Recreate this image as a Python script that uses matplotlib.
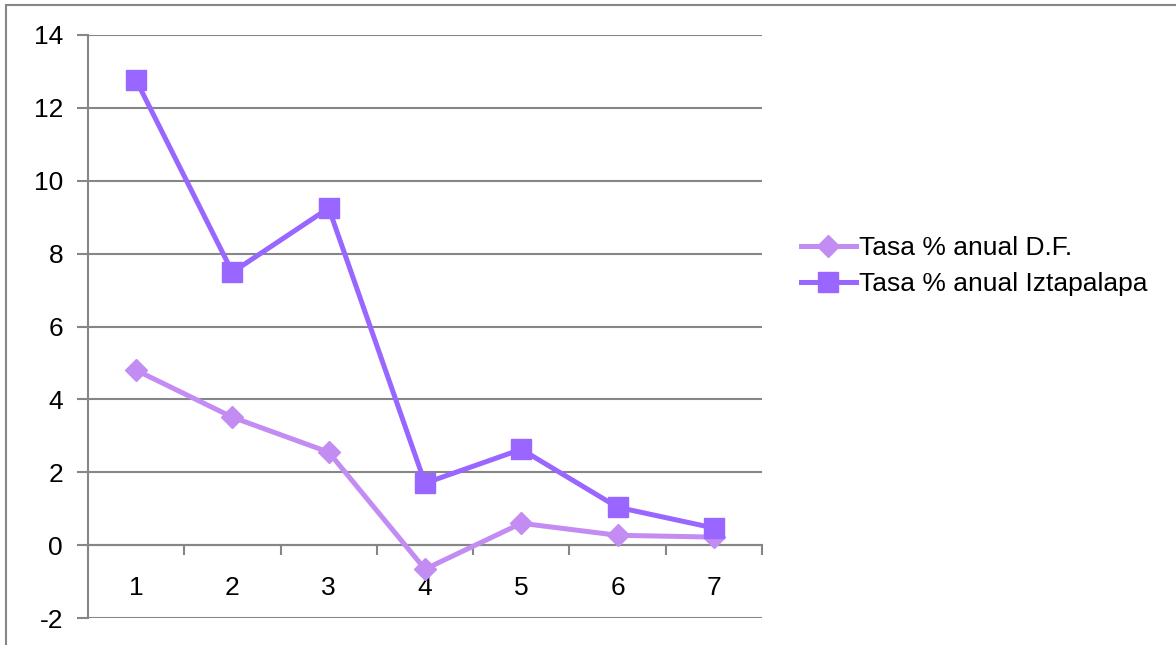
import matplotlib.pyplot as plt
import matplotlib.patches as mpatches
from matplotlib.ticker import FixedLocator

plt.rcParams["font.family"] = ["Liberation Sans", "DejaVu Sans"]

# ── data ─────────────────────────────────────────────────────────────────────
categories = [1, 2, 3, 4, 5, 6, 7]
tasa_df = [4.80, 3.51, 2.55, -0.66, 0.60, 0.27, 0.22]
tasa_izt = [12.76, 7.49, 9.25, 1.70, 2.63, 1.04, 0.47]
y_ticks = [-2, 0, 2, 4, 6, 8, 10, 12, 14]

GRID = "#868686"
C_DF = "#C28CF2"
C_IZT = "#9966FF"
FS = 19

fig = plt.figure(figsize=(11.76, 6.45), dpi=100)
fig.patch.set_facecolor("white")

# outer chart border (only left and top visible in the reference)
fig.patches.append(mpatches.Rectangle(
    (6 / 1176, -0.2), 1.2, (645 - 5) / 645 + 0.2,
    transform=fig.transFigure, fill=False, edgecolor=GRID, linewidth=1.5))

ax = fig.add_axes([88 / 1176, 27 / 645, (762 - 88) / 1176, (618 - 35) / 645])

ax.plot(categories, tasa_df, color=C_DF, linewidth=3.6, marker="D",
        markersize=11, markeredgecolor=C_DF, label="Tasa % anual D.F.", zorder=3)
ax.plot(categories, tasa_izt, color=C_IZT, linewidth=3.6, marker="s",
        markersize=14, markeredgecolor=C_IZT, label="Tasa % anual Iztapalapa", zorder=4)

ax.set_xlim(0.5, 7.5)
ax.set_ylim(-2, 14)

# y axis
ax.set_yticks(y_ticks)
ax.set_yticklabels([str(v) for v in y_ticks])
ax.tick_params(axis="y", length=8, width=1.5, color=GRID, labelsize=FS, pad=10)
ax.grid(axis="y", color=GRID, linewidth=1.5)
ax.set_axisbelow(True)

# category axis crosses at zero
ax.spines["bottom"].set_position(("data", 0))
ax.spines["bottom"].set_color(GRID)
ax.spines["bottom"].set_linewidth(1.5)
ax.spines["left"].set_color(GRID)
ax.spines["left"].set_linewidth(1.5)
ax.spines["top"].set_visible(False)
ax.spines["right"].set_visible(False)

ax.set_xticks(categories)
ax.set_xticklabels([str(c) for c in categories])
ax.tick_params(axis="x", which="major", length=0, labelsize=FS, pad=22)
ax.xaxis.set_minor_locator(FixedLocator([c + 0.5 for c in [0] + categories]))
ax.tick_params(axis="x", which="minor", length=7, width=1.5, color=GRID, direction="out")

leg = fig.legend(loc="center left", bbox_to_anchor=(790 / 1176, 1 - 266 / 645),
                 frameon=False, fontsize=FS, handlelength=2.1, handletextpad=0.1,
                 labelspacing=0.45, borderaxespad=0)

fig.savefig("out.png", dpi=100, facecolor="white")
